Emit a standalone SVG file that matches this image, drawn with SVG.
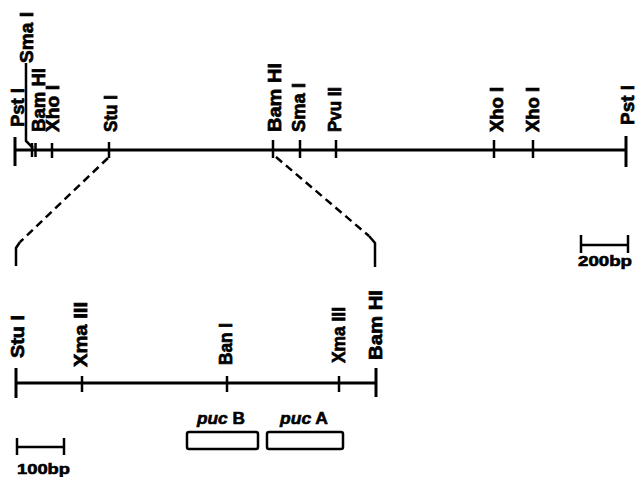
<svg xmlns="http://www.w3.org/2000/svg" width="636" height="477" viewBox="0 0 636 477">
<style>
.ln{stroke:#000;stroke-width:3;fill:none;stroke-linecap:butt}
.tk{stroke:#000;stroke-width:2.5;fill:none}
.ds{stroke:#000;stroke-width:2.5;fill:none;stroke-dasharray:8 5}
.lb{font-family:"Liberation Sans",Arial,sans-serif;font-weight:bold;font-size:18px;fill:#000;stroke:#000;stroke-width:0.7}
.sc{font-family:"Liberation Sans",Arial,sans-serif;font-weight:bold;font-size:15px;fill:#000;stroke:#000;stroke-width:0.6}
.gn{font-family:"Liberation Sans",Arial,sans-serif;font-weight:bold;font-size:17px;fill:#000;stroke:#000;stroke-width:0.6}
.bx{stroke:#000;stroke-width:2.5;fill:#fff}
</style>
<rect width="636" height="477" fill="#fff"/>
<g id="top-map">
<line class="ln" x1="15" y1="150" x2="627" y2="150"/>
<line class="ln" x1="15" y1="137" x2="15" y2="166"/>
<line class="ln" x1="626" y1="136" x2="626" y2="167"/>
<line class="tk" x1="32" y1="143" x2="32" y2="157"/>
<line class="tk" x1="35.5" y1="143" x2="35.5" y2="157"/>
<line class="tk" x1="52" y1="143" x2="52" y2="158"/>
<line class="tk" x1="109" y1="142" x2="109" y2="158"/>
<line class="tk" x1="273" y1="140" x2="273" y2="158"/>
<line class="tk" x1="300" y1="140" x2="300" y2="158"/>
<line class="tk" x1="336" y1="140" x2="336" y2="158"/>
<line class="tk" x1="494" y1="140" x2="494" y2="158"/>
<line class="tk" x1="533" y1="140" x2="533" y2="158"/>
<path class="tk" d="M26,63 L26,141 L33,148"/>
</g>
<g id="top-labels">
<text class="lb" transform="translate(24,127) rotate(-90)" textLength="39" lengthAdjust="spacingAndGlyphs">Pst I</text>
<text class="lb" transform="translate(33,63) rotate(-90)" textLength="51" lengthAdjust="spacingAndGlyphs">Sma I</text>
<text class="lb" transform="translate(45,132) rotate(-90)" textLength="64" lengthAdjust="spacingAndGlyphs">Bam HI</text>
<text class="lb" transform="translate(58.5,132) rotate(-90)" textLength="47" lengthAdjust="spacingAndGlyphs">Xho I</text>
<text class="lb" transform="translate(116.5,132) rotate(-90)" textLength="37" lengthAdjust="spacingAndGlyphs">Stu I</text>
<text class="lb" transform="translate(281,132) rotate(-90)" textLength="69" lengthAdjust="spacingAndGlyphs">Bam HI</text>
<text class="lb" transform="translate(305,132) rotate(-90)" textLength="49" lengthAdjust="spacingAndGlyphs">Sma I</text>
<text class="lb" transform="translate(341,132) rotate(-90)" textLength="45" lengthAdjust="spacingAndGlyphs">Pvu II</text>
<text class="lb" transform="translate(502.5,132) rotate(-90)" textLength="45" lengthAdjust="spacingAndGlyphs">Xho I</text>
<text class="lb" transform="translate(538.5,132) rotate(-90)" textLength="45" lengthAdjust="spacingAndGlyphs">Xho I</text>
<text class="lb" transform="translate(633.5,125) rotate(-90)" textLength="40" lengthAdjust="spacingAndGlyphs">Pst I</text>
</g>
<g id="connectors">
<path class="ds" d="M108,158 L20,242"/>
<path class="tk" d="M20,242 L16,248 L16,266"/>
<path class="ds" d="M276,157 L369,236"/>
<path class="tk" d="M369,236 L375,243 L375,267"/>
</g>
<g id="scale-200bp">
<line class="tk" x1="581" y1="245" x2="628" y2="245"/>
<line class="tk" x1="581" y1="235" x2="581" y2="253"/>
<line class="tk" x1="628" y1="235" x2="628" y2="253"/>
<text class="sc" x="578" y="266" textLength="54" lengthAdjust="spacingAndGlyphs">200bp</text>
</g>
<g id="bottom-map">
<line class="ln" x1="16" y1="383" x2="376" y2="383"/>
<line class="ln" x1="16" y1="368" x2="16" y2="398"/>
<line class="ln" x1="376" y1="368" x2="376" y2="397"/>
<line class="tk" x1="82" y1="376" x2="82" y2="392"/>
<line class="tk" x1="227" y1="376" x2="227" y2="392"/>
<line class="tk" x1="339" y1="376" x2="339" y2="392"/>
</g>
<g id="bottom-labels">
<text class="lb" transform="translate(23.5,358) rotate(-90)" textLength="43" lengthAdjust="spacingAndGlyphs">Stu I</text>
<text class="lb" transform="translate(86.5,367) rotate(-90)" textLength="65" lengthAdjust="spacingAndGlyphs">Xma III</text>
<text class="lb" transform="translate(231.5,365) rotate(-90)" textLength="42" lengthAdjust="spacingAndGlyphs">Ban I</text>
<text class="lb" transform="translate(344.5,363) rotate(-90)" textLength="56" lengthAdjust="spacingAndGlyphs">Xma III</text>
<text class="lb" transform="translate(381.5,360) rotate(-90)" textLength="70" lengthAdjust="spacingAndGlyphs">Bam HI</text>
</g>
<g id="pucB">
<rect class="bx" x="187" y="432" width="71" height="17" rx="2"/>
<text class="gn" x="197" y="424" textLength="48" lengthAdjust="spacingAndGlyphs"><tspan font-style="italic">puc</tspan> B</text>
</g>
<g id="pucA">
<rect class="bx" x="267" y="432" width="76" height="17" rx="2"/>
<text class="gn" x="280" y="424" textLength="48" lengthAdjust="spacingAndGlyphs"><tspan font-style="italic">puc</tspan> A</text>
</g>
<g id="scale-100bp">
<line class="tk" x1="17" y1="447" x2="64" y2="447"/>
<line class="tk" x1="17" y1="438" x2="17" y2="455"/>
<line class="tk" x1="64" y1="438" x2="64" y2="455"/>
<text class="sc" x="17" y="474" textLength="53" lengthAdjust="spacingAndGlyphs">100bp</text>
</g>
</svg>
